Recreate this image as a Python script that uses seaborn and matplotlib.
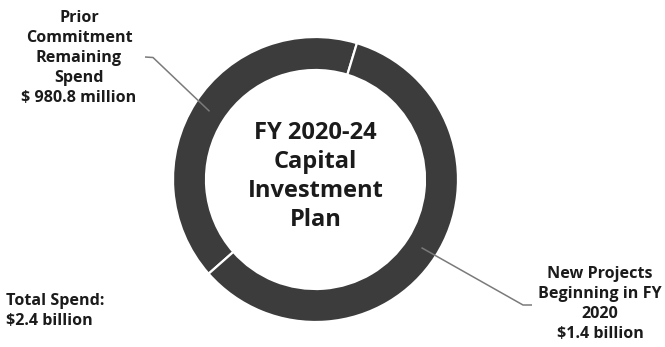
import matplotlib
matplotlib.use("Agg")
import matplotlib.pyplot as plt
import seaborn as sns
import numpy as np

# Spend by category, millions of dollars
categories = ["Prior Commitment Remaining Spend", "New Projects Beginning in FY 2020"]
spend_millions = [980.8, 1400.0]
slice_labels = ["Prior\nCommitment\nRemaining\nSpend\n$ 980.8 million",
                "New Projects\nBeginning in FY\n2020\n$1.4 billion"]
center_title = "FY 2020-24\nCapital\nInvestment\nPlan"
total_label = "Total Spend:\n$2.4 billion"

sns.set_theme(style="white")
plt.rcParams["font.family"] = ["Open Sans", "DejaVu Sans"]

W, H = 665, 347
fig = plt.figure(figsize=(W / 100, H / 100), dpi=100)
ax = fig.add_axes([0, 0, 1, 1])

ring_color = "#3c3c3c"
cx, cy = 315.5, H - 179.5
r_out, ring_w = 142.5, 33

wedges, _ = ax.pie(
    spend_millions,
    colors=[ring_color, ring_color],
    startangle=90 - 228.6,
    counterclock=False,
    center=(cx, cy),
    radius=r_out,
    wedgeprops=dict(width=ring_w, edgecolor="white", linewidth=1.6),
)
ax.set_xlim(0, W)
ax.set_ylim(0, H)
ax.set_aspect("equal")
ax.axis("off")

txt_color = "#1b1b1b"
line_color = "#7a7a7a"
r_mid = r_out - ring_w / 2


def wedge_mid(w):
    ang = np.deg2rad((w.theta1 + w.theta2) / 2)
    return cx + r_mid * np.cos(ang), cy + r_mid * np.sin(ang)


lab_kw = dict(fontsize=11.6, fontweight="bold", color=txt_color, linespacing=1.34)

# Prior commitment label (upper left) with leader
px, py = wedge_mid(wedges[0])
ax.plot([145, 153, px], [H - 57, H - 57.5, py], color=line_color, lw=1.1,
        solid_capstyle="butt")
ax.text(79, H - 58, slice_labels[0], ha="center", va="center", **lab_kw)

# New projects label (lower right) with leader
nx, ny = wedge_mid(wedges[1])
ax.plot([nx, 523, 532], [ny, H - 305, H - 305], color=line_color, lw=1.1,
        solid_capstyle="butt")
ax.text(600, H - 304, slice_labels[1], ha="center", va="center", **lab_kw)

# Centre title
ax.text(cx, cy + 3, center_title, ha="center", va="center", fontsize=17.0,
        fontweight="bold", color=txt_color, linespacing=1.26)

# Total spend
ax.text(6, H - 311, total_label, ha="left", va="center", **lab_kw)

fig.savefig("out.png", dpi=100, facecolor="white")
